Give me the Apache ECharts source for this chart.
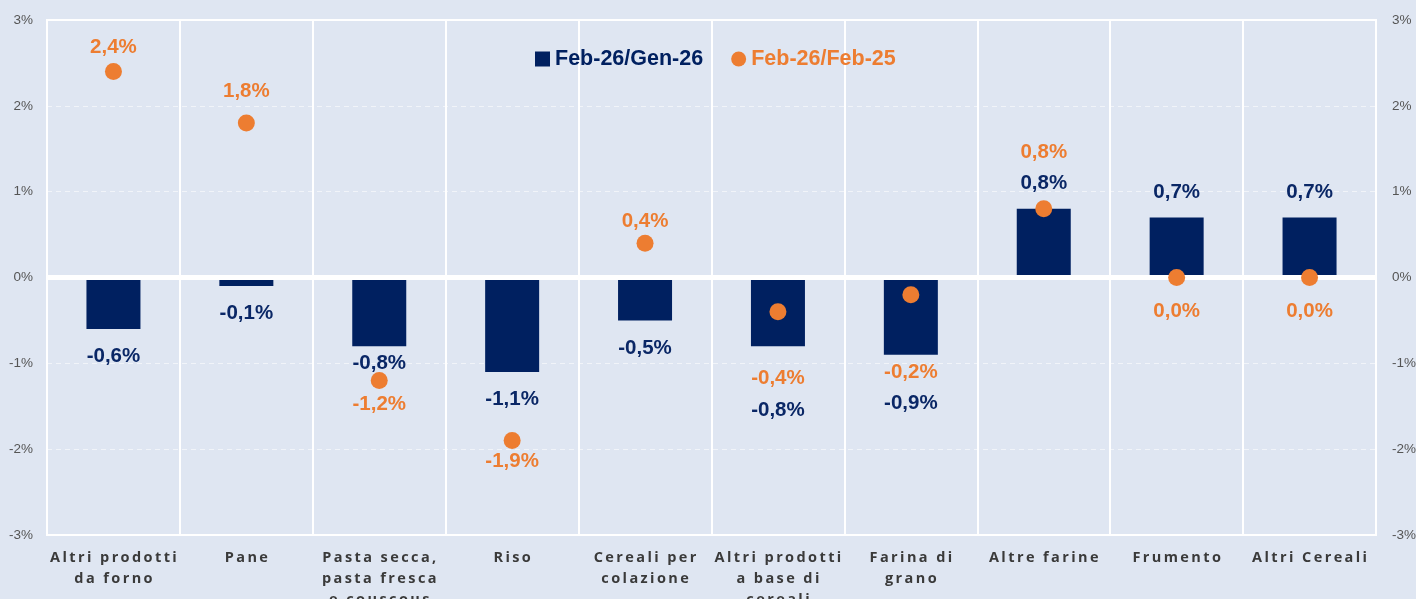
<!DOCTYPE html>
<html>
<head>
<meta charset="utf-8">
<script src="https://cdn.jsdelivr.net/npm/echarts@6/dist/echarts.min.js"></script>
<style>
html,body{margin:0;padding:0;background:#dfe6f2;}
#c{width:1416px;height:599px;}
</style>
</head>
<body>
<div id="c"></div>
<script>
const categories = ["Altri prodotti\nda forno","Pane","Pasta secca,\npasta fresca\ne couscous","Riso","Cereali per\ncolazione","Altri prodotti\na base di\ncereali","Farina di\ngrano","Altre farine","Frumento","Altri Cereali"];
const seriesMonthly = [-0.6,-0.1,-0.8,-1.1,-0.5,-0.8,-0.9,0.8,0.7,0.7];   // Feb-26/Gen-26
const seriesYearly  = [2.4,1.8,-1.2,-1.9,0.4,-0.4,-0.2,0.8,0.0,0.0];     // Feb-26/Feb-25
const seriesNames = ["Feb-26/Gen-26","Feb-26/Feb-25"];
const yTicks = [-3,-2,-1,0,1,2,3];

// label nudges (styling only, pixels)
const barLabelNudge = [27,27,17,27,28,64,49,-25,-25,-25];
const dotLabelNudge = [-24,-32,24,21,-22,67,78,-56,34,34];

const NAVY = '#002060', NAVY_TXT = '#0a2766', ORANGE = '#ED7D31';
const fmt = v => v.toFixed(1).replace('.', ',') + '%';
const spaced = s => s.split('\n').map(l => l.split('').join('\u2009')).join('\n');
const mkLabel = color => ({
  show: true, position: 'inside', textBorderWidth: 0, opacity: 1,
  formatter: p => '{v|' + fmt(p.value) + '}',
  rich: {v: {fontFamily: 'Liberation Sans', fontWeight: 'bold', fontSize: 20.5, color: color}}
});

const chart = echarts.init(document.getElementById('c'));
chart.setOption({
  backgroundColor: '#dfe6f2',
  animation: false,
  grid: {left: 47, right: 40, top: 20, bottom: 64, outerBoundsMode: 'none', containLabel: false,
         show: true, borderColor: '#ffffff', borderWidth: 2, backgroundColor: 'transparent'},
  legend: {
    left: 530, top: 43, itemGap: 28, itemWidth: 15, itemHeight: 15,
    data: [
      {name: seriesNames[0], icon: 'rect', itemStyle: {color: NAVY}, textStyle: {color: NAVY}},
      {name: seriesNames[1], icon: 'circle', itemStyle: {color: ORANGE}, textStyle: {color: ORANGE}}
    ],
    textStyle: {fontFamily: 'Liberation Sans', fontWeight: 700, fontSize: 21.5}
  },
  xAxis: {
    type: 'category', data: categories, boundaryGap: true,
    axisLine: {show: false}, axisTick: {show: false},
    splitLine: {show: true, lineStyle: {color: '#ffffff', width: 2}},
    axisLabel: {
      interval: 0, margin: 12, color: '#3a3a3a', fontFamily: 'Open Sans', fontWeight: 'bold',
      fontSize: 14.5, lineHeight: 21, verticalAlign: 'top',
      formatter: v => spaced(v)
    }
  },
  yAxis: [
    {type: 'value', min: yTicks[0], max: yTicks[yTicks.length-1], interval: 1,
     axisLine: {show: false}, axisTick: {show: false},
     splitLine: {show: true, lineStyle: {color: 'rgba(255,255,255,0.55)', width: 1, type: [5,4]}},
     axisLabel: {margin: 14, color: '#555555', fontFamily: 'Liberation Sans', fontSize: 13.5, formatter: v => v + '%'}},
    {type: 'value', min: yTicks[0], max: yTicks[yTicks.length-1], interval: 1, position: 'right',
     axisLine: {show: false}, axisTick: {show: false}, splitLine: {show: false},
     axisLabel: {margin: 16, color: '#555555', fontFamily: 'Liberation Sans', fontSize: 13.5, formatter: v => v + '%'}}
  ],
  series: [
    {
      name: seriesNames[0], type: 'bar', data: seriesMonthly, barWidth: 54, z: 2,
      itemStyle: {color: NAVY},
      markLine: {
        silent: true, symbol: 'none', z: 4, label: {show: false},
        lineStyle: {color: '#ffffff', width: 5, type: 'solid'},
        data: [{yAxis: 0}]
      }
    },
    {
      name: 'barLabels', type: 'scatter', symbolSize: 0, z: 6, silent: true,
      itemStyle: {opacity: 1, color: NAVY_TXT},
      data: seriesMonthly.map((v, i) => ({value: v, label: {offset: [0, barLabelNudge[i]]}})),
      label: mkLabel(NAVY_TXT)
    },
    {
      name: seriesNames[1], type: 'scatter', symbol: 'circle', symbolSize: 17, z: 8,
      itemStyle: {color: ORANGE, opacity: 1},
      data: seriesYearly.map((v, i) => ({value: v, label: {offset: [0, dotLabelNudge[i]]}})),
      label: mkLabel(ORANGE)
    }
  ]
});
</script>
</body>
</html>
